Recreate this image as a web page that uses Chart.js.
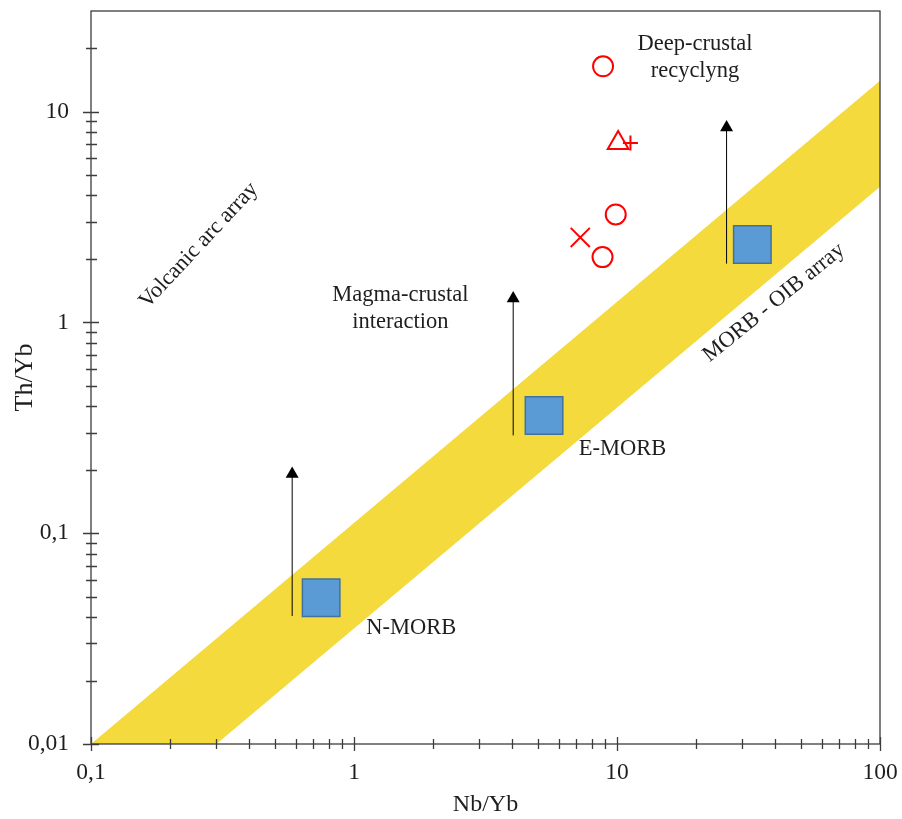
<!DOCTYPE html>
<html>
<head>
<meta charset="utf-8">
<title>Th/Yb vs Nb/Yb</title>
<script src="https://cdn.jsdelivr.net/npm/chart.js@4.4.1/dist/chart.umd.min.js"></script>
<style>
  html, body { margin: 0; padding: 0; background: #fff; }
  #wrap { width: 902px; height: 819px; }
</style>
</head>
<body>
<div id="wrap"><canvas id="plot" width="902" height="819"></canvas></div>
<script>
// Axis ranges and labelled ticks
const xRange = [0.1, 100];
const yRange = [0.01, 30];
const xMajorTicks = [0.1, 1, 10, 100];
const yMajorTicks = [0.01, 0.1, 1, 10];

// MORB - OIB mantle array (upper edge, then lower edge back)
const arrayNb = [0.1, 100, 100, 0.3];
const arrayTh = [0.01, 14, 4.4, 0.01];

// Reference compositions: N-MORB, E-MORB, OIB
const refNb = [0.75, 5.28, 32.7];
const refTh = [0.0494, 0.362, 2.34];

// Crustal input arrows (start, head)
const arrowNb = [0.582, 4.03, 26.1];
const arrowThFrom = [0.0405, 0.291, 1.90];
const arrowThTo = [0.191, 1.297, 8.41];

// Samples
const circleNb = [8.85, 9.89, 8.81];
const circleTh = [16.4, 3.25, 2.04];
const triangleNb = [10.1];
const triangleTh = [7.1];
const plusNb = [11.25];
const plusTh = [7.1];
const crossNb = [7.25];
const crossTh = [2.53];

const serif = '"Liberation Serif", "Times New Roman", serif';
const ink = '#1e1e1e';

// Text placed in data coordinates
const notes = [
  { lines: ['Deep-crustal', 'recyclyng'], x: 19.8, y: 18.1, angle: 0 },
  { lines: ['Magma-crustal', 'interaction'], x: 1.50, y: 1.16, angle: 0 },
  { lines: ['E-MORB'], x: 10.5, y: 0.25, angle: 0 },
  { lines: ['N-MORB'], x: 1.65, y: 0.0355, angle: 0 },
  { lines: ['Volcanic arc array'], x: 0.257, y: 2.32, angle: -47 },
  { lines: ['MORB - OIB array'], x: 39.5, y: 1.24, angle: -39 }
];

const zip = (xs, ys) => xs.map((v, i) => ({ x: v, y: ys[i] }));

function decadeMinors(lo, hi) {
  const out = [];
  for (let d = lo; d < hi; d *= 10) {
    for (let k = 2; k <= 9; k++) {
      const v = +(d * k).toPrecision(3);
      if (v < hi) out.push(v);
    }
  }
  return out;
}

// Frame, crossing tick marks and annotations
const decorations = {
  id: 'decorations',
  afterDatasetsDraw(chart) {
    const { ctx, chartArea: a, scales: { x, y } } = chart;
    ctx.save();
    ctx.strokeStyle = '#3c3c3c';
    ctx.lineWidth = 1.3;
    ctx.strokeRect(a.left, a.top, a.right - a.left, a.bottom - a.top);

    ctx.beginPath();
    decadeMinors(xRange[0], xRange[1]).forEach(v => {
      const px = Math.round(x.getPixelForValue(v)) + 0.5;
      ctx.moveTo(px, a.bottom - 5); ctx.lineTo(px, a.bottom + 5);
    });
    xMajorTicks.forEach(v => {
      const px = Math.round(x.getPixelForValue(v)) + 0.5;
      ctx.moveTo(px, a.bottom - 7); ctx.lineTo(px, a.bottom + 7);
    });
    decadeMinors(yRange[0], yRange[1]).forEach(v => {
      const py = Math.round(y.getPixelForValue(v)) + 0.5;
      ctx.moveTo(a.left - 5, py); ctx.lineTo(a.left + 6, py);
    });
    yMajorTicks.forEach(v => {
      const py = Math.round(y.getPixelForValue(v)) + 0.5;
      ctx.moveTo(a.left - 8, py); ctx.lineTo(a.left + 8, py);
    });
    ctx.stroke();

    ctx.fillStyle = ink;
    ctx.font = '22.5px ' + serif;
    ctx.textAlign = 'center';
    ctx.textBaseline = 'middle';
    notes.forEach(n => {
      const cx = x.getPixelForValue(n.x);
      const cy = y.getPixelForValue(n.y);
      ctx.save();
      ctx.translate(cx, cy);
      ctx.rotate(n.angle * Math.PI / 180);
      const lh = 27;
      n.lines.forEach((t, i) => {
        ctx.fillText(t, 0, (i - (n.lines.length - 1) / 2) * lh);
      });
      ctx.restore();
    });
    ctx.restore();
  }
};

const arrowSets = arrowNb.map((nb, i) => ({
  data: [{ x: nb, y: arrowThFrom[i] }, { x: nb, y: arrowThTo[i] }],
  showLine: true,
  borderColor: '#000',
  borderWidth: 1,
  pointStyle: 'triangle',
  pointRadius: [0, 7.5],
  backgroundColor: '#000',
  pointBorderWidth: 0,
  order: 4
}));

function logAxis(range, majors, title, isX) {
  return {
    type: 'logarithmic',
    min: range[0],
    max: range[1],
    grid: { display: false, drawTicks: false },
    border: { display: false },
    afterBuildTicks: s => { s.ticks = majors.map(v => ({ value: v })); },
    afterFit: s => {
      if (isX) s.height = 75; else s.width = 91;
      // edge labels may overhang; the layout padding already leaves room
      s.paddingTop = s.paddingBottom = s.paddingLeft = s.paddingRight = 0;
    },
    ticks: {
      autoSkip: false,
      maxRotation: 0,
      padding: isX ? 15 : 22,
      color: ink,
      font: { family: serif, size: 23.5 },
      callback: v => String(v).replace('.', ',')
    },
    title: {
      display: true,
      text: title,
      color: ink,
      font: { family: serif, size: isX ? 24 : 26 },
      padding: isX ? { top: 0, bottom: 0 } : { top: 10, bottom: 0 }
    }
  };
}

new Chart(document.getElementById('plot'), {
  type: 'scatter',
  data: {
    datasets: [
      {
        data: zip(arrayNb, arrayTh),
        showLine: true,
        fill: 'shape',
        backgroundColor: '#F5DA3D',
        borderWidth: 0,
        pointRadius: 0,
        order: 5
      },
      ...arrowSets,
      {
        data: zip(refNb, refTh),
        pointStyle: 'rect',
        pointRadius: 26.5,
        backgroundColor: '#5B9BD5',
        borderColor: '#41719C',
        borderWidth: 1.5,
        order: 3
      },
      {
        data: zip(circleNb, circleTh),
        pointStyle: 'circle',
        pointRadius: 10,
        borderColor: '#FF0000',
        backgroundColor: 'rgba(0,0,0,0)',
        borderWidth: 2,
        order: 1
      },
      {
        data: zip(triangleNb, triangleTh),
        pointStyle: 'triangle',
        pointRadius: 12,
        borderColor: '#FF0000',
        backgroundColor: 'rgba(0,0,0,0)',
        borderWidth: 2,
        order: 1
      },
      {
        data: zip(plusNb, plusTh),
        pointStyle: 'cross',
        pointRadius: 7.5,
        borderColor: '#FF0000',
        borderWidth: 2,
        order: 1
      },
      {
        data: zip(crossNb, crossTh),
        pointStyle: 'crossRot',
        pointRadius: 13.5,
        borderColor: '#FF0000',
        borderWidth: 2,
        order: 1
      }
    ]
  },
  options: {
    responsive: false,
    animation: false,
    layout: { autoPadding: false, padding: { left: 0, right: 22, top: 11, bottom: 0 } },
    plugins: { legend: { display: false }, tooltip: { enabled: false } },
    scales: {
      x: logAxis(xRange, xMajorTicks, 'Nb/Yb', true),
      y: logAxis(yRange, yMajorTicks, 'Th/Yb', false)
    }
  },
  plugins: [decorations]
});
</script>
</body>
</html>
